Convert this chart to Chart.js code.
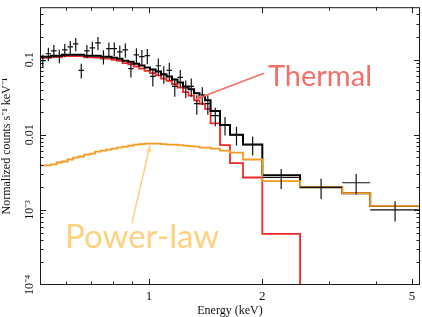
<!DOCTYPE html>
<html>
<head>
<meta charset="utf-8">
<script src="https://cdn.jsdelivr.net/npm/chart.js@4.4.1/dist/chart.umd.min.js"></script>
<style>
  html, body { margin: 0; padding: 0; background: #fff; }
  #wrap { width: 422px; height: 317px; position: relative; }
</style>
</head>
<body>
<div id="wrap"><canvas id="chart"></canvas></div>
<script>
// energy bin edges (keV), one more than the number of bins
const binEdges = [
  0.513, 0.531, 0.549, 0.568, 0.587, 0.607, 0.628, 0.649, 0.672, 0.695,
  0.719, 0.744, 0.769, 0.795, 0.822, 0.850, 0.880, 0.910, 0.941, 0.973,
  1.006, 1.041, 1.076, 1.113, 1.151, 1.190, 1.231, 1.273, 1.317, 1.362,
  1.409, 1.457, 1.544, 1.641, 1.777, 2.0, 2.52, 3.26, 3.87, 5.25,
]

// observed spectrum (counts s-1 keV-1) and its 1-sigma errors
const dataCounts = [
  0.097, 0.120, 0.131, 0.113, 0.135, 0.148, 0.162, 0.072, 0.131, 0.144,
  0.167, 0.110, 0.140, 0.140, 0.127, 0.135, 0.076, 0.116, 0.110, 0.113,
  0.060, 0.083, 0.065, 0.072, 0.044, 0.058, 0.042, 0.044, 0.026, 0.034,
  0.026, 0.018, 0.0135, 0.0100, 0.0074, 0.0027, 0.0020, 0.0023, 0.0010,
]
const dataErr = [
  0.019, 0.024, 0.026, 0.023, 0.027, 0.030, 0.032, 0.016, 0.026, 0.029,
  0.033, 0.024, 0.029, 0.029, 0.027, 0.029, 0.018, 0.026, 0.025, 0.026,
  0.016, 0.021, 0.017, 0.019, 0.012, 0.015, 0.011, 0.012, 0.0075, 0.009,
  0.0075, 0.005, 0.0037, 0.0028, 0.0021, 0.0008, 0.0006, 0.0007, 0.0003,
]

// folded models per bin
const totalModel = [
  0.1095, 0.1095, 0.1129, 0.1129, 0.1164, 0.1164, 0.1164, 0.1164, 0.1129, 0.1129,
  0.1129, 0.1095, 0.1095, 0.1062, 0.1031, 0.0970, 0.0941, 0.0886, 0.0834, 0.0785,
  0.0739, 0.0695, 0.0635, 0.0597, 0.0545, 0.0498, 0.0441, 0.0403, 0.0357, 0.0326,
  0.0289, 0.0207, 0.0135, 0.0100, 0.0074, 0.0029, 0.0020, 0.00167, 0.00113,
]
const thermalModel = [
  0.1056, 0.1056, 0.1089, 0.1086, 0.1120, 0.1117, 0.1114, 0.1113, 0.1074, 0.1073,
  0.1069, 0.1033, 0.1032, 0.0997, 0.0964, 0.0901, 0.0869, 0.0812, 0.0759, 0.0709,
  0.0663, 0.0619, 0.0560, 0.0523, 0.0471, 0.0425, 0.0369, 0.0332, 0.0288, 0.0259,
  0.0222, 0.0142, 0.0073, 0.0042, 0.0027, 0.00048, 0.00001,
]
const powerlawModel = [
  0.00391, 0.00391, 0.00403, 0.00428, 0.00441, 0.00469, 0.00498, 0.00514, 0.00546, 0.00562,
  0.00598, 0.00616, 0.00635, 0.00654, 0.00674, 0.00695, 0.00717, 0.00739, 0.00750, 0.00761,
  0.00761, 0.00761, 0.00750, 0.00739, 0.00739, 0.00727, 0.00717, 0.00706, 0.00695, 0.00674,
  0.00674, 0.00654, 0.00616, 0.00580, 0.00469, 0.00241, 0.00201, 0.00167, 0.00113,
]

// axis ticks
const xTickValues = [0.6, 0.7, 0.8, 0.9, 1, 2, 3, 4, 5]
const xTickLabels = { 1: '1', 2: '2', 5: '5' }
const yTickValues = [
  0.0001, 0.0002, 0.0003, 0.0004, 0.0005, 0.0006, 0.0007, 0.0008, 0.0009,
  0.001, 0.002, 0.003, 0.004, 0.005, 0.006, 0.007, 0.008, 0.009,
  0.01, 0.02, 0.03, 0.04, 0.05, 0.06, 0.07, 0.08, 0.09,
  0.1, 0.2, 0.3, 0.4,
]
const yTickLabels = { 0.0001: '10⁻⁴', 0.001: '10⁻³', 0.01: '0.01', 0.1: '0.1' }

// text labels with arrows, in data units [keV, counts]
const notes = [
  { text: 'Thermal', size: 29, color: '#f46f66', at: [2.07, 0.0445], from: [2.02, 0.066], to: [1.33, 0.0298] },
  { text: 'Power-law', size: 33, color: '#fdd27f', at: [0.598, 0.000307], from: [0.90, 0.00066], to: [1.006, 0.0072] },
]

const steps = vals =>
  vals.flatMap((v, i) => [{ x: binEdges[i], y: v }, { x: binEdges[i + 1], y: v }])

const crosses = dataCounts.flatMap((c, i) => {
  const xc = Math.sqrt(binEdges[i] * binEdges[i + 1])
  return [
    { x: binEdges[i], y: c }, { x: binEdges[i + 1], y: c }, { x: xc, y: null },
    { x: xc, y: c - dataErr[i] }, { x: xc, y: c + dataErr[i] }, { x: xc, y: null },
  ]
})

const serif = 'Liberation Serif'

const framePlugin = {
  id: 'frame',
  afterDatasetsDraw(chart) {
    const { ctx, chartArea: a, scales: { x, y } } = chart
    ctx.save()
    ctx.strokeStyle = '#1a1a1a'
    ctx.lineWidth = 1
    ctx.strokeRect(a.left + 0.5, a.top + 0.5, a.width - 1, a.height - 1)
    ctx.beginPath()
    x.ticks.forEach(t => {
      const px = Math.round(x.getPixelForValue(t.value)) + 0.5
      const len = xTickLabels[t.value] ? 6 : 3.5
      ctx.moveTo(px, a.bottom); ctx.lineTo(px, a.bottom - len)
      ctx.moveTo(px, a.top); ctx.lineTo(px, a.top + len)
    })
    y.ticks.forEach(t => {
      const py = Math.round(y.getPixelForValue(t.value)) + 0.5
      if (py < a.top || py > a.bottom) return
      const len = yTickLabels[t.value] ? 6 : 3.5
      ctx.moveTo(a.left, py); ctx.lineTo(a.left + len, py)
      ctx.moveTo(a.right, py); ctx.lineTo(a.right - len, py)
    })
    ctx.stroke()
    ctx.restore()
  },
  afterDraw(chart) {
    const { ctx, scales: { x, y } } = chart
    ctx.save()
    notes.forEach(n => {
      ctx.fillStyle = n.color
      ctx.strokeStyle = n.color
      ctx.font = n.size + 'px Lato'
      ctx.textBaseline = 'alphabetic'
      ctx.fillText(n.text, x.getPixelForValue(n.at[0]), y.getPixelForValue(n.at[1]))
      const x0 = x.getPixelForValue(n.from[0]), y0 = y.getPixelForValue(n.from[1])
      const x1 = x.getPixelForValue(n.to[0]), y1 = y.getPixelForValue(n.to[1])
      ctx.lineWidth = 1.5
      ctx.beginPath(); ctx.moveTo(x0, y0); ctx.lineTo(x1, y1); ctx.stroke()
      const ang = Math.atan2(y1 - y0, x1 - x0)
      ctx.beginPath()
      ctx.moveTo(x1, y1)
      ctx.lineTo(x1 - 7 * Math.cos(ang - 0.35), y1 - 7 * Math.sin(ang - 0.35))
      ctx.lineTo(x1 - 7 * Math.cos(ang + 0.35), y1 - 7 * Math.sin(ang + 0.35))
      ctx.closePath(); ctx.fill()
    })
    ctx.restore()
  },
}

new Chart(document.getElementById('chart'), {
  type: 'scatter',
  data: {
    datasets: [
      {
        label: 'data',
        data: crosses,
        showLine: true,
        spanGaps: false,
        borderColor: '#111',
        borderWidth: 1.2,
        pointRadius: 0,
        order: 0,
      },
      {
        label: 'power-law',
        data: steps(powerlawModel),
        showLine: true,
        borderColor: '#f39b22',
        borderWidth: 1.8,
        pointRadius: 0,
        order: 1,
      },
      {
        label: 'total',
        data: steps(totalModel),
        showLine: true,
        borderColor: '#000',
        borderWidth: 2,
        pointRadius: 0,
        order: 2,
      },
      {
        label: 'thermal',
        data: steps(thermalModel),
        showLine: true,
        borderColor: '#f0262a',
        borderWidth: 1.8,
        pointRadius: 0,
        order: 3,
      },
    ],
  },
  options: {
    responsive: true,
    maintainAspectRatio: false,
    animation: false,
    layout: { padding: { top: 3, right: 2, left: 0, bottom: 0 } },
    plugins: { legend: { display: false }, tooltip: { enabled: false } },
    scales: {
      x: {
        type: 'logarithmic',
        min: 0.513,
        max: 5.25,
        afterBuildTicks: s => { s.ticks = xTickValues.map(v => ({ value: v })) },
        afterFit: s => { s.height = 32 },
        grid: { display: false, drawTicks: false },
        border: { display: false },
        ticks: {
          autoSkip: false,
          maxRotation: 0,
          padding: 4,
          color: '#111',
          font: { family: serif, size: 13 },
          callback: v => xTickLabels[v] || '',
        },
        title: {
          display: true,
          text: 'Energy (keV)',
          color: '#111',
          font: { family: serif, size: 12, lineHeight: 1 },
          padding: { top: 0, bottom: 0 },
        },
      },
      y: {
        type: 'logarithmic',
        min: 0.0001,
        max: 0.5,
        afterBuildTicks: s => { s.ticks = yTickValues.map(v => ({ value: v })) },
        afterFit: s => { s.width = 40 },
        grid: { display: false, drawTicks: false },
        border: { display: false },
        ticks: {
          autoSkip: false,
          minRotation: 90,
          maxRotation: 90,
          crossAlign: 'center',
          padding: 0,
          color: '#111',
          font: { family: serif, size: 12 },
          callback: v => yTickLabels[v] || '',
        },
        title: {
          display: true,
          text: 'Normalized counts s⁻¹ keV⁻¹',
          color: '#111',
          font: { family: serif, size: 12, lineHeight: 1.1 },
          padding: { top: 0, bottom: 0 },
        },
      },
    },
  },
  plugins: [framePlugin],
})
</script>
</body>
</html>
